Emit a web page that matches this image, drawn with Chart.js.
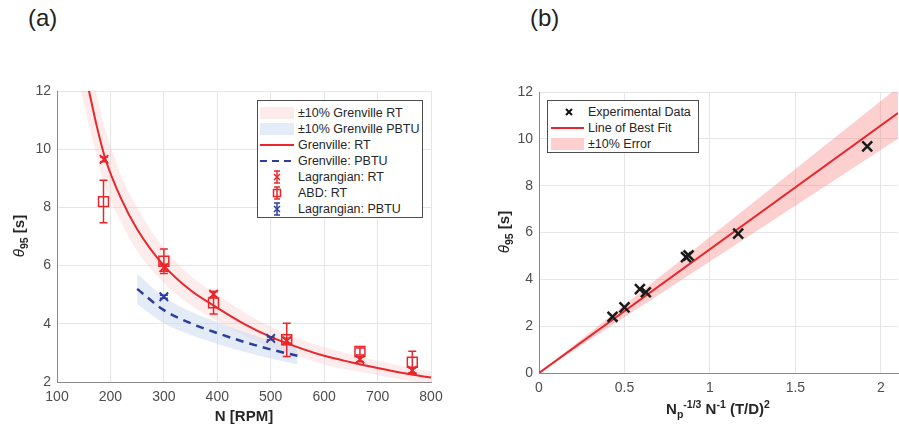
<!DOCTYPE html>
<html>
<head>
<meta charset="utf-8">
<script src="https://cdn.jsdelivr.net/npm/chart.js@4/dist/chart.umd.min.js"></script>
<style>
  body { margin: 0; width: 899px; height: 431px; position: relative; background: #fff; overflow: hidden;
         font-family: "Liberation Sans", Arial, sans-serif; color: #262626; }
  .abs { position: absolute; }
  .panel { font-size: 24px; color: #222; }
  .ytitle { font-size: 15px; font-weight: bold; color: #262626; transform: rotate(-90deg); transform-origin: center; white-space: nowrap; }
  .xtitle { font-size: 15px; font-weight: bold; color: #262626; white-space: nowrap; }
  .legend { border: 1px solid #4d4d4d; background: #fff; font-size: 12.5px; color: #262626; }
  .legend .row { position: absolute; left: 0; height: 14px; line-height: 14px; white-space: nowrap; }
  .legend svg { position: absolute; top: 0; }
  .legend span { position: absolute; top: 0; }
  sub, sup { font-size: 70%; }
</style>
</head>
<body>

<div class="abs panel" style="left:28px; top:4px;">(a)</div>
<div class="abs panel" style="left:530px; top:4px;">(b)</div>

<div class="abs" style="left:0; top:0;"><canvas id="c1" width="445" height="431"></canvas></div>
<div class="abs" style="left:490px; top:0;"><canvas id="c2" width="409" height="431"></canvas></div>

<div class="abs ytitle" style="left:-13px; top:226px; width:66px; text-align:center;"><i style="font-weight:normal">θ</i><sub>95</sub> [s]</div>
<div class="abs xtitle" style="left:194px; top:407px; width:100px; text-align:center;">N [RPM]</div>

<div class="abs ytitle" style="left:472px; top:222px; width:66px; text-align:center;"><i style="font-weight:normal">θ</i><sub>95</sub> [s]</div>
<div class="abs xtitle" style="left:618px; top:398px; width:200px; text-align:center;">N<sub>p</sub><sup>-1/3</sup> N<sup>-1</sup> (T/D)<sup>2</sup></div>

<div class="abs legend" style="left:257px; top:100px; width:164px; height:116px;">
  <div class="row" style="top:5px;"><svg width="36" height="14"><rect x="2" y="1" width="34" height="12" fill="#fdeaea"/></svg><span style="left:40px">±10% Grenville RT</span></div>
  <div class="row" style="top:21px;"><svg width="36" height="14"><rect x="2" y="1" width="34" height="12" fill="#e4ecf8"/></svg><span style="left:40px">±10% Grenville PBTU</span></div>
  <div class="row" style="top:37px;"><svg width="36" height="14"><line x1="2" y1="7" x2="36" y2="7" stroke="#e8262b" stroke-width="2"/></svg><span style="left:40px">Grenville: RT</span></div>
  <div class="row" style="top:53px;"><svg width="38" height="14"><line x1="2" y1="7" x2="38" y2="7" stroke="#2b3ea0" stroke-width="2.2" stroke-dasharray="7,5"/></svg><span style="left:40px">Grenville: PBTU</span></div>
  <div class="row" style="top:69px;"><svg width="36" height="14"><g stroke="#e8262b" stroke-width="1.5" fill="none"><line x1="19" y1="1" x2="19" y2="13"/><line x1="16" y1="1" x2="22" y2="1"/><line x1="16" y1="13" x2="22" y2="13"/><line x1="16" y1="4" x2="22" y2="10"/><line x1="16" y1="10" x2="22" y2="4"/></g></svg><span style="left:40px">Lagrangian: RT</span></div>
  <div class="row" style="top:85px;"><svg width="36" height="14"><g stroke="#e8262b" stroke-width="1.5" fill="none"><line x1="19" y1="1" x2="19" y2="13"/><line x1="16" y1="1" x2="22" y2="1"/><line x1="16" y1="13" x2="22" y2="13"/><rect x="15.5" y="3.5" width="7" height="7"/></g></svg><span style="left:40px">ABD: RT</span></div>
  <div class="row" style="top:101px;"><svg width="36" height="14"><g stroke="#2b3ea0" stroke-width="1.5" fill="none"><line x1="19" y1="1" x2="19" y2="13"/><line x1="16" y1="1" x2="22" y2="1"/><line x1="16" y1="13" x2="22" y2="13"/><line x1="16" y1="4" x2="22" y2="10"/><line x1="16" y1="10" x2="22" y2="4"/></g></svg><span style="left:40px">Lagrangian: PBTU</span></div>
</div>

<div class="abs legend" style="left:547px; top:100px; width:150px; height:51px;">
  <div class="row" style="top:4px;"><svg width="36" height="14"><g stroke="#111" stroke-width="2"><line x1="18" y1="4" x2="24" y2="10"/><line x1="18" y1="10" x2="24" y2="4"/></g></svg><span style="left:40px">Experimental Data</span></div>
  <div class="row" style="top:20px;"><svg width="36" height="14"><line x1="3" y1="7" x2="36" y2="7" stroke="#e8262b" stroke-width="2"/></svg><span style="left:40px">Line of Best Fit</span></div>
  <div class="row" style="top:36px;"><svg width="36" height="14"><rect x="3" y="1" width="33" height="12" fill="#fdcfcf"/></svg><span style="left:40px">±10% Error</span></div>
</div>

<script>
// (a) Grenville correlation curves
const grenRtN = [140, 150, 160, 175, 190, 220, 250, 300, 350, 400, 450, 500, 550, 600, 650, 700, 750, 800];
const grenRt = [13.8, 12.9, 12.0, 10.75, 9.7, 8.3, 7.25, 6.0, 5.15, 4.55, 4.0, 3.55, 3.2, 2.9, 2.68, 2.48, 2.3, 2.15];
const grenRtHi = [15.2, 14.2, 13.2, 11.8, 10.7, 9.1, 8.0, 6.6, 5.65, 5.0, 4.4, 3.9, 3.5, 3.2, 2.95, 2.73, 2.53, 2.37];
const grenRtLo = [12.4, 11.6, 10.8, 9.7, 8.7, 7.5, 6.5, 5.4, 4.65, 4.1, 3.6, 3.2, 2.9, 2.6, 2.4, 2.23, 2.07, 1.94];

const grenPbN = [250, 300, 350, 400, 450, 500, 550];
const grenPb = [5.2, 4.47, 4.02, 3.68, 3.38, 3.12, 2.9];
const grenPbHi = [5.72, 4.92, 4.42, 4.05, 3.72, 3.43, 3.19];
const grenPbLo = [4.68, 4.02, 3.62, 3.31, 3.04, 2.81, 2.61];

// (a) measurements
const lagRtN = [188, 300, 393, 530, 667, 765];
const lagRt = [9.65, 5.93, 5.02, 3.42, 2.78, 2.4];
const lagRtErr = [0.08, 0.12, 0.1, 0.08, 0.08, 0.08];

const abdRtN = [187, 300, 393, 530, 667, 765];
const abdRt = [8.2, 6.15, 4.72, 3.45, 3.05, 2.68];
const abdRtErr = [0.73, 0.42, 0.38, 0.57, 0.12, 0.38];

const lagPbN = [300, 500];
const lagPb = [4.93, 3.5];
const lagPbErr = [0.05, 0.05];

// (b) scaled data and fit
const expX = [0.43, 0.5, 0.59, 0.625, 0.86, 0.875, 1.165, 1.92];
const expY = [2.4, 2.8, 3.58, 3.45, 4.95, 5.02, 5.95, 9.68];
const fitX = [0, 2.1];
const fitY = [0, 11.1];
const fitHi = [0, 12.2];
const fitLo = [0, 10.0];

const xTicksB = [0, 0.5, 1, 1.5, 2];

const RED = "#e8262b";
const BLUE = "#2b3ea0";
const GRID = "#e6e6e6";
const AXIS = "#8a8a8a";
const TICK = "#4d4d4d";
const FONT = { family: "'Liberation Sans', Arial, sans-serif", size: 14 };

function pts(xs, ys) {
  return xs.map((x, i) => ({ x: x, y: ys[i] }));
}

const errorBars = {
  id: "errorBars",
  afterDatasetsDraw(chart) {
    const ctx = chart.ctx;
    const y = chart.scales.y;
    chart.data.datasets.forEach((ds, i) => {
      if (!ds.errors) return;
      const meta = chart.getDatasetMeta(i);
      ctx.save();
      ctx.strokeStyle = ds.borderColor;
      ctx.lineWidth = 1.5;
      meta.data.forEach((pt, j) => {
        const v = ds.data[j].y;
        const e = ds.errors[j];
        const yt = y.getPixelForValue(v + e);
        const yb = y.getPixelForValue(v - e);
        ctx.beginPath();
        ctx.moveTo(pt.x, yt); ctx.lineTo(pt.x, yb);
        ctx.moveTo(pt.x - 4, yt); ctx.lineTo(pt.x + 4, yt);
        ctx.moveTo(pt.x - 4, yb); ctx.lineTo(pt.x + 4, yb);
        ctx.stroke();
      });
      ctx.restore();
    });
  }
};

function axes(xmin, xmax, xstep, ymin, ymax, ystep, yW, xH) {
  return {
    x: {
      type: "linear", min: xmin, max: xmax,
      ticks: { stepSize: xstep, color: TICK, font: FONT, padding: 7, maxRotation: 0,
               callback: v => String(v) },
      grid: { color: GRID, drawTicks: false },
      border: { color: AXIS, width: 1 },
      afterFit(s) { s.height = xH; s.paddingLeft = 0; s.paddingRight = 0; }
    },
    y: {
      type: "linear", min: ymin, max: ymax,
      ticks: { stepSize: ystep, color: TICK, font: FONT, padding: 6 },
      grid: { color: GRID, drawTicks: false },
      border: { color: AXIS, width: 1 },
      afterFit(s) { s.width = yW; s.paddingTop = 0; s.paddingBottom = 0; }
    }
  };
}

const lineBase = { type: "line", pointRadius: 0, cubicInterpolationMode: "monotone", fill: false };

new Chart(document.getElementById("c1"), {
  type: "scatter",
  data: {
    datasets: [
      { ...lineBase, data: pts(grenRtN, grenRtHi), borderWidth: 0, borderColor: "rgba(0,0,0,0)", backgroundColor: "rgba(250,195,195,0.32)", fill: "+1", order: 10 },
      { ...lineBase, data: pts(grenRtN, grenRtLo), borderWidth: 0, borderColor: "rgba(0,0,0,0)", order: 10 },
      { ...lineBase, data: pts(grenPbN, grenPbHi), borderWidth: 0, borderColor: "rgba(0,0,0,0)", backgroundColor: "rgba(200,215,240,0.5)", fill: "+1", order: 9 },
      { ...lineBase, data: pts(grenPbN, grenPbLo), borderWidth: 0, borderColor: "rgba(0,0,0,0)", order: 9 },
      { ...lineBase, data: pts(grenRtN, grenRt), borderColor: RED, borderWidth: 2, order: 5 },
      { ...lineBase, data: pts(grenPbN, grenPb), borderColor: BLUE, borderWidth: 2.5, borderDash: [8, 6], order: 5 },
      { data: pts(abdRtN, abdRt), errors: abdRtErr, pointStyle: "rect", pointRadius: 7, borderColor: RED, backgroundColor: "rgba(0,0,0,0)", borderWidth: 1.5, order: 1 },
      { data: pts(lagRtN, lagRt), errors: lagRtErr, pointStyle: "crossRot", pointRadius: 6, borderColor: RED, borderWidth: 2, order: 0 },
      { data: pts(lagPbN, lagPb), errors: lagPbErr, pointStyle: "crossRot", pointRadius: 6, borderColor: BLUE, borderWidth: 2, order: 0 }
    ]
  },
  options: {
    responsive: false, animation: false, devicePixelRatio: 1,
    layout: { autoPadding: false, padding: { top: 91, right: 14, left: 0, bottom: 0 } },
    plugins: { legend: { display: false }, tooltip: { enabled: false } },
    scales: axes(100, 800, 100, 2, 12, 2, 57, 49)
  },
  plugins: [errorBars]
});

const scalesB = axes(0, 2.1, 0.5, 0, 12, 2, 49, 58);
scalesB.x.afterBuildTicks = function (s) { s.ticks = xTicksB.map(v => ({ value: v })); };

new Chart(document.getElementById("c2"), {
  type: "scatter",
  data: {
    datasets: [
      { ...lineBase, cubicInterpolationMode: "default", tension: 0, data: pts(fitX, fitHi), borderWidth: 0, borderColor: "rgba(0,0,0,0)", backgroundColor: "rgba(250,120,120,0.35)", fill: "+1", order: 10 },
      { ...lineBase, cubicInterpolationMode: "default", tension: 0, data: pts(fitX, fitLo), borderWidth: 0, borderColor: "rgba(0,0,0,0)", order: 10 },
      { ...lineBase, cubicInterpolationMode: "default", tension: 0, data: pts(fitX, fitY), borderColor: RED, borderWidth: 2, order: 5 },
      { data: pts(expX, expY), pointStyle: "crossRot", pointRadius: 7, borderColor: "#1a1a1a", borderWidth: 2.5, order: 0 }
    ]
  },
  options: {
    responsive: false, animation: false, devicePixelRatio: 1,
    layout: { autoPadding: false, padding: { top: 92, right: 1, left: 0, bottom: 0 } },
    plugins: { legend: { display: false }, tooltip: { enabled: false } },
    scales: scalesB
  }
});
</script>
</body>
</html>
